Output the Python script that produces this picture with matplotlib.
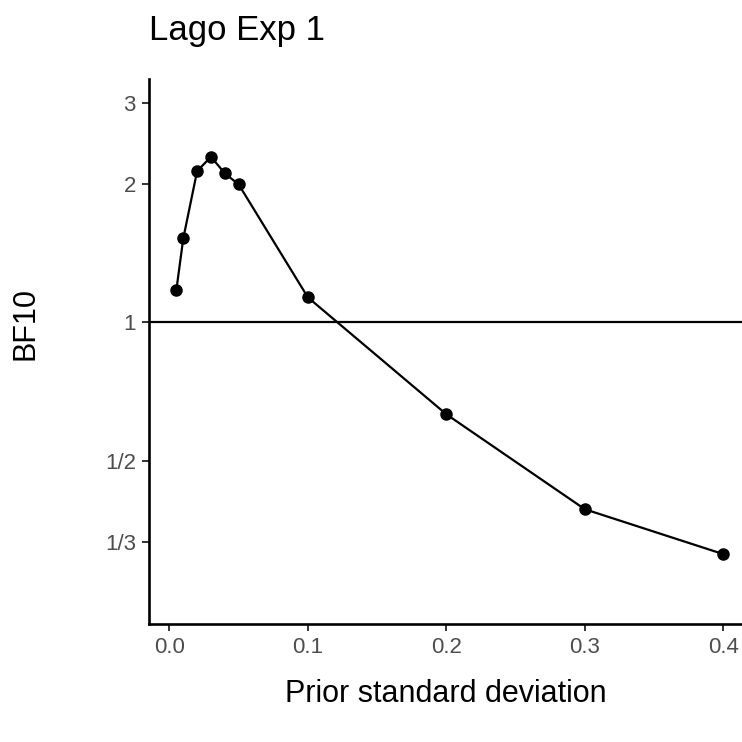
import numpy as np
import matplotlib
matplotlib.use('Agg')
import matplotlib.pyplot as plt
from matplotlib.ticker import FixedLocator, FixedFormatter, NullLocator

plt.rcParams['font.family'] = ['Liberation Sans', 'DejaVu Sans']

# prior sd vs Bayes factor
prior_sd = [0.005, 0.01, 0.02, 0.03, 0.04, 0.05, 0.1, 0.2, 0.3, 0.4]
bf10 = [1.176, 1.524, 2.136, 2.295, 2.112, 1.998, 1.134, 0.631, 0.392, 0.313]

y_ticks = [1/3, 1/2, 1, 2, 3]
y_labels = ['1/3', '1/2', '1', '2', '3']
x_ticks = [0.0, 0.1, 0.2, 0.3, 0.4]
x_labels = ['0.0', '0.1', '0.2', '0.3', '0.4']

fig = plt.figure(figsize=(7.42, 7.42), dpi=100)
ax = fig.add_axes([149/742, 118/742, 0.8109, 0.7345])

ax.axhline(1, color='black', lw=1.6, zorder=1)
ax.plot(prior_sd, bf10, color='black', lw=1.6, zorder=2)
ax.plot(prior_sd, bf10, 'o', color='black', ms=8, zorder=3)

ax.set_yscale('log')
ax.set_ylim(0.2205, 3.39)
ax.set_xlim(-0.01475, 0.41975)

ax.yaxis.set_major_locator(FixedLocator(y_ticks))
ax.yaxis.set_major_formatter(FixedFormatter(y_labels))
ax.yaxis.set_minor_locator(NullLocator())
ax.set_xticks(x_ticks)
ax.set_xticklabels(x_labels)

for s in ['top', 'right']:
    ax.spines[s].set_visible(False)
for s in ['left', 'bottom']:
    ax.spines[s].set_linewidth(1.9)
    ax.spines[s].set_color('black')

ax.tick_params(axis='both', length=5.3, width=1.4, color='#333333',
               labelcolor='#4D4D4D', labelsize=16, pad=4.2)

ax.set_xlabel('Prior standard deviation', fontsize=22, va='baseline')
ax.xaxis.set_label_coords(0.4936, (624 - 702) / 545)
ax.set_ylabel('BF10', fontsize=22, va='center')
ax.yaxis.set_label_coords((25 - 149) / 601.7, (624 - 323) / 545)

fig.text(149/742, 1 - 40/742, 'Lago Exp 1', fontsize=25, ha='left', va='baseline')

fig.savefig('out.png', dpi=100)
